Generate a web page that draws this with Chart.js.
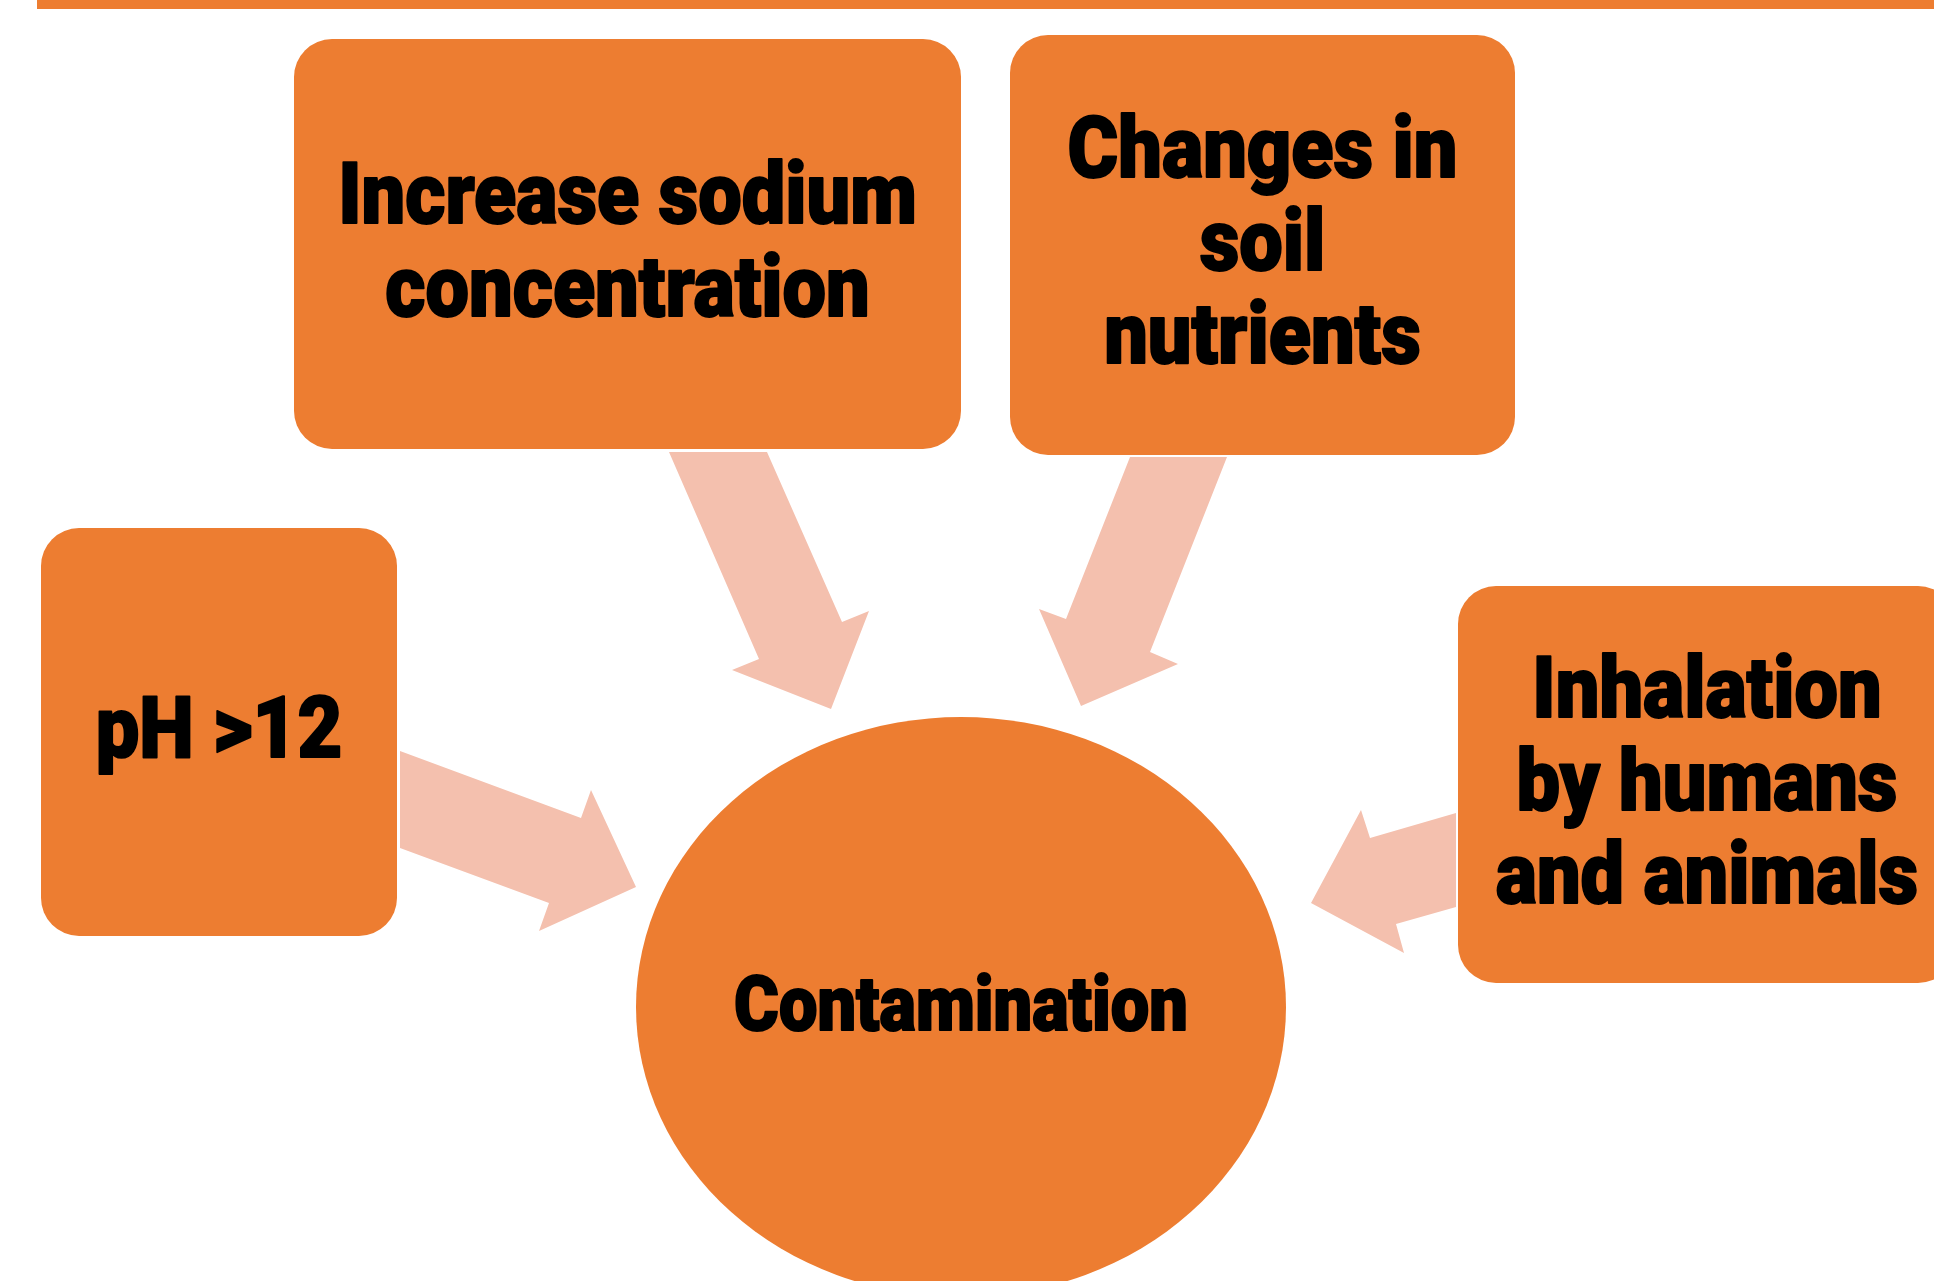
<!DOCTYPE html>
<html>
<head>
<meta charset="utf-8">
<script src="https://cdn.jsdelivr.net/npm/chart.js@4.4.1/dist/chart.umd.min.js"></script>
<style>
  html, body { margin: 0; padding: 0; background: #fff; overflow: hidden; }
  canvas { display: block; }
</style>
</head>
<body>
<canvas id="diagram" width="1934" height="1281"></canvas>
<script>
// cause boxes: text lines and extents, in page units
const causeLabels = [
  ['Increase sodium', 'concentration'],
  ['Changes in', 'soil', 'nutrients'],
  ['pH >12'],
  ['Inhalation', 'by humans', 'and animals']
];
const causeLeft = [294, 1010, 41, 1458];
const causeRight = [961, 1515, 397, 1956];
const causeTop = [39, 35, 528, 586];
const causeBottom = [449, 455, 936, 983];

// central effect
const effectLabel = 'Contamination';
const effectX = 961;
const effectY = 1007;
const effectRadiusX = 325;
const effectRadiusY = 290;

// block arrows (polygon outlines)
const arrowX = [
  [669, 767, 842, 869, 831, 732, 759],
  [1130, 1227, 1150, 1178, 1081, 1039, 1066],
  [400, 581, 591, 636, 539, 549, 400],
  [1456, 1370, 1361, 1311, 1404, 1396, 1456]
];
const arrowY = [
  [452, 452, 622, 611, 709, 670, 659],
  [457, 457, 652, 664, 706, 609, 619],
  [751, 818, 790, 887, 931, 903, 848],
  [813, 838, 810, 903, 953, 924, 907]
];

// rule across the top
const ruleX = [37, 1934];
const ruleY = [0, 9];

const orange = '#ED7D31';
const arrowColor = '#F4C0AE';
const squeeze = 0.9;

function roundRect(ctx, x0, y0, x1, y1, r) {
  ctx.beginPath();
  ctx.moveTo(x0 + r, y0);
  ctx.arcTo(x1, y0, x1, y1, r);
  ctx.arcTo(x1, y1, x0, y1, r);
  ctx.arcTo(x0, y1, x0, y0, r);
  ctx.arcTo(x0, y0, x1, y0, r);
  ctx.closePath();
}

function squeezedText(ctx, text, cx, baseline) {
  ctx.save();
  ctx.translate(cx, baseline);
  ctx.scale(squeeze, 1);
  ctx.lineWidth = 2;
  ctx.strokeStyle = '#000';
  ctx.lineJoin = 'round';
  ctx.strokeText(text, 0, 0);
  ctx.fillText(text, 0, 0);
  ctx.restore();
}

const diagramPlugin = {
  id: 'diagram',
  beforeDatasetsDraw(chart) {
    const { ctx, scales: { x, y } } = chart;
    ctx.save();
    ctx.fillStyle = orange;
    const x0 = x.getPixelForValue(ruleX[0]), x1 = x.getPixelForValue(ruleX[1]);
    const y0 = y.getPixelForValue(ruleY[0]), y1 = y.getPixelForValue(ruleY[1]);
    ctx.fillRect(x0, y0, x1 - x0, y1 - y0);
    ctx.restore();
  },
  afterDatasetsDraw(chart) {
    const { ctx, scales: { x, y } } = chart;
    ctx.save();
    ctx.textAlign = 'center';
    ctx.textBaseline = 'alphabetic';

    // boxes
    causeLabels.forEach((lines, i) => {
      const x0 = x.getPixelForValue(causeLeft[i]);
      const x1 = x.getPixelForValue(causeRight[i]);
      const y0 = y.getPixelForValue(causeTop[i]);
      const y1 = y.getPixelForValue(causeBottom[i]);
      ctx.fillStyle = orange;
      roundRect(ctx, x0, y0, x1, y1, 38);
      ctx.fill();

      ctx.fillStyle = '#000';
      ctx.font = '900 86px Roboto';
      const cx = (x0 + x1) / 2;
      const cy = (y0 + y1) / 2;
      const step = 93;
      let base = cy - (lines.length - 1) * step / 2 + 25;
      lines.forEach(line => {
        squeezedText(ctx, line, cx, base);
        base += step;
      });
    });

    // ellipse
    const ex = x.getPixelForValue(effectX);
    const ey = y.getPixelForValue(effectY);
    const rx = Math.abs(x.getPixelForValue(effectX + effectRadiusX) - ex);
    const ry = Math.abs(y.getPixelForValue(effectY + effectRadiusY) - ey);
    ctx.fillStyle = orange;
    ctx.beginPath();
    ctx.ellipse(ex, ey, rx, ry, 0, 0, Math.PI * 2);
    ctx.fill();
    ctx.fillStyle = '#000';
    ctx.font = '900 76px Roboto';
    squeezedText(ctx, effectLabel, ex, ey + 23);
    ctx.restore();
  }
};

const chart = new Chart(document.getElementById('diagram'), {
  type: 'scatter',
  data: {
    datasets: arrowX.map((xs, i) => ({
      type: 'line',
      data: xs.concat([xs[0]]).map((v, j) => ({ x: v, y: arrowY[i].concat([arrowY[i][0]])[j] })),
      showLine: true,
      fill: 'shape',
      backgroundColor: arrowColor,
      borderColor: 'rgba(0,0,0,0)',
      borderWidth: 0,
      pointRadius: 0,
      tension: 0
    }))
  },
  options: {
    responsive: false,
    animation: false,
    events: [],
    layout: { padding: 0 },
    scales: {
      x: { type: 'linear', min: 0, max: 1934, display: false },
      y: { type: 'linear', min: 0, max: 1281, reverse: true, display: false }
    },
    plugins: {
      legend: { display: false },
      tooltip: { enabled: false }
    }
  },
  plugins: [diagramPlugin]
});
</script>
</body>
</html>
